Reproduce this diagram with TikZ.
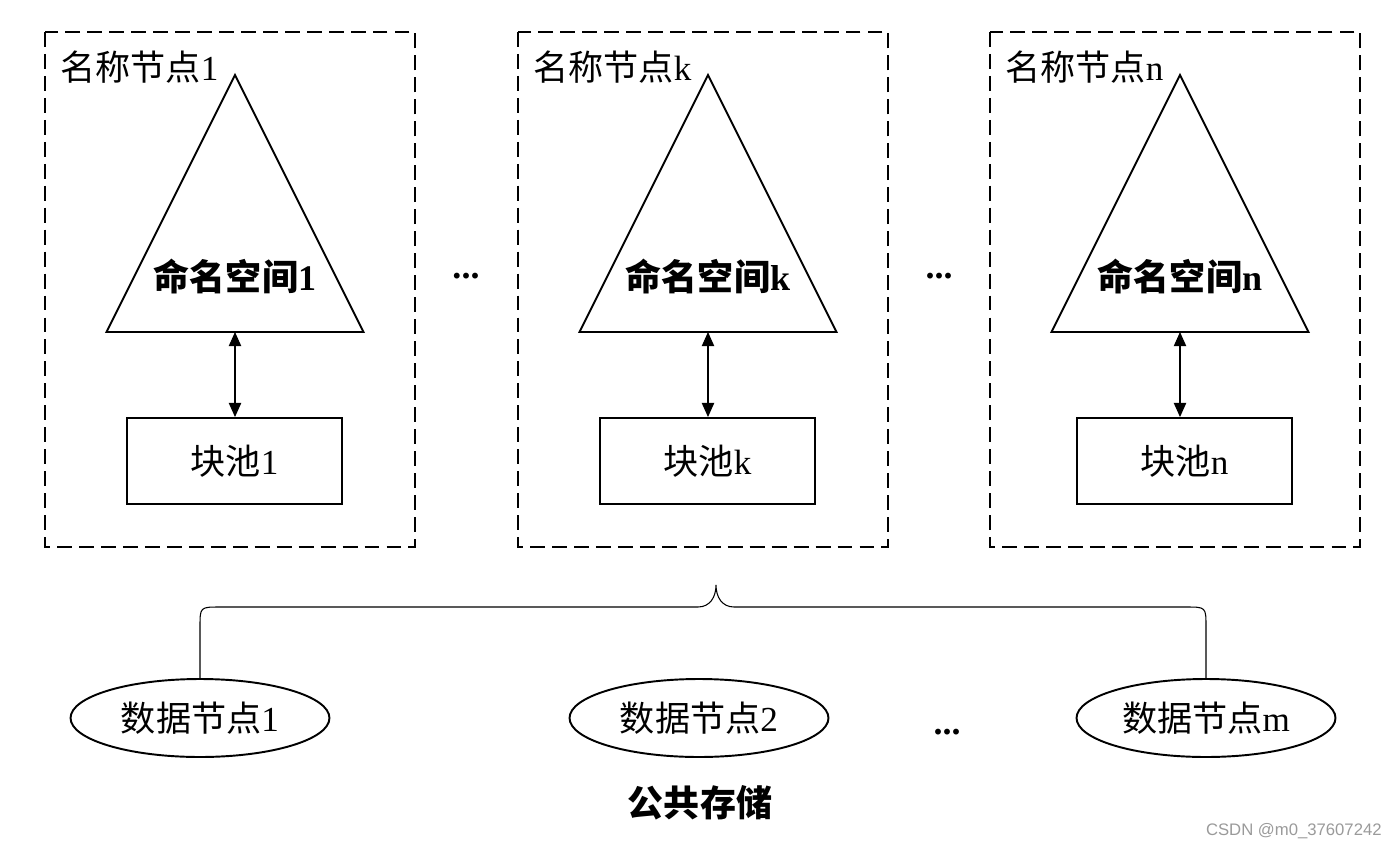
\documentclass[tikz,border=0pt]{standalone}
\usepackage{fontspec}
\setmainfont{Liberation Serif}
\newfontfamily\cjk{Noto Sans CJK SC}
\newfontfamily\wmfont{Liberation Sans}
\usetikzlibrary{arrows.meta,shapes.geometric}
\definecolor{WmGray}{HTML}{9A9A9A}

\begin{document}
\begin{tikzpicture}[x=0.02cm,y=-0.02cm,
    txt/.style={font=\fontsize{20}{22}\selectfont,inner sep=0pt},
    boldtxt/.style={font=\fontsize{20.5}{22}\selectfont\bfseries,inner sep=0pt},
    namebox/.style={draw,line width=1.1pt,dash pattern=on 8.5pt off 4pt},
    poolbox/.style={draw,line width=1.1pt,minimum width=4.3cm,minimum height=1.72cm,txt},
    dataell/.style={draw,ellipse,line width=1.1pt,minimum width=5.18cm,minimum height=1.56cm,txt},
    link/.style={{Triangle[length=8pt,width=7pt]}-{Triangle[length=8pt,width=7pt]},line width=0.6pt}]
  \useasboundingbox (0,0) rectangle (1397,849);

  % name nodes
  \foreach \cx/\bx/\k in {235/234.5/1, 708/707.5/k, 1180/1184.5/n} {
    \draw[namebox] (\cx-190,32) rectangle (\cx+180,547);
    \node[txt,anchor=west] (nn\k) at (\cx-175,67) {{\cjk 名称节点}\k};
    \draw[line width=1.1pt,line join=miter] (\cx,75) -- (\cx+128.5,332) -- (\cx-128.5,332) -- cycle;
    \node[boldtxt] (ns\k) at (\cx,277) {{\cjk 命名空间}\k};
    \coordinate (base\k) at (\cx,332);
    \node[poolbox] (bp\k) at (\bx,461) {{\cjk 块池}\k};
    \draw[link] (base\k) -- (bp\k.north -| base\k);
  }
  \node[boldtxt] (dots1) at (466,276) {...};
  \node[boldtxt] (dots2) at (939,276) {...};

  % data nodes
  \node[dataell] (dn1) at (200,718) {{\cjk 数据节点}1};
  \node[dataell] (dn2) at (699,718) {{\cjk 数据节点}2};
  \node[dataell] (dnm) at (1206,718) {{\cjk 数据节点}m};
  \node[boldtxt] (dots3) at (947,732) {...};
  \node[boldtxt] (store) at (700,803) {{\cjk 公共存储}};

  \coordinate (tip) at (716,585);
  \draw[line width=0.6pt] (dn1.north) -- (200,627) .. controls (200,607) .. (220,607)
    -- (698,607) .. controls (710,607) and (716,597) .. (tip)
    .. controls (716,597) and (722,607) .. (734,607)
    -- (1186,607) .. controls (1206,607) .. (1206,627) -- (dnm.north);

  \node[font=\wmfont\fontsize{9.5}{11}\selectfont,text=WmGray,anchor=east,inner sep=0pt] (wm) at (1382,831) {CSDN @m0\_37607242};
\end{tikzpicture}
\end{document}
